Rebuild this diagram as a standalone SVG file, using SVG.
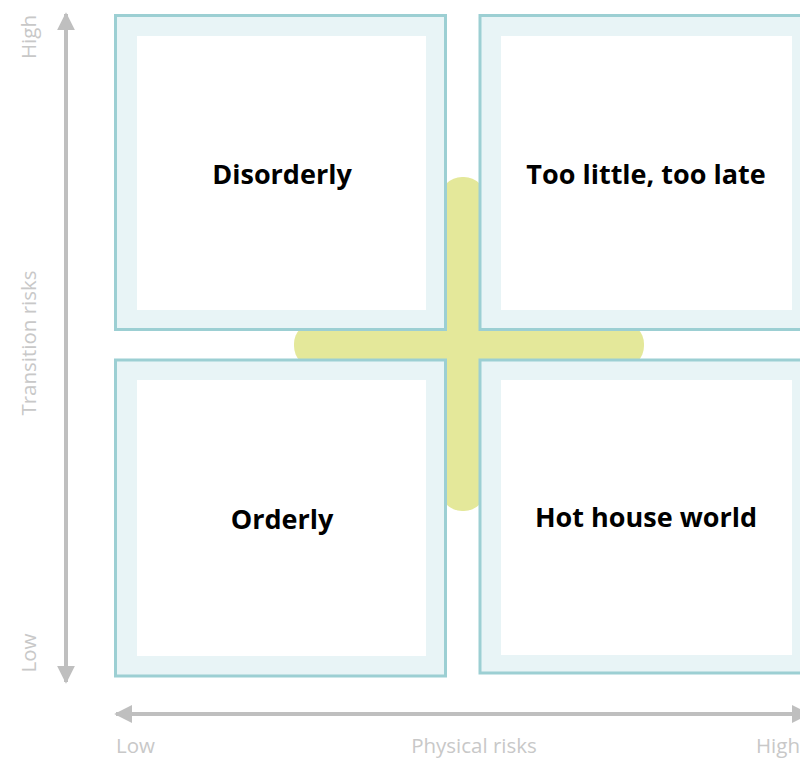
<svg xmlns="http://www.w3.org/2000/svg" width="800" height="759" viewBox="0 0 800 759">
<style>
.box{fill:#e8f4f6;stroke:#9ccfd3;stroke-width:3}
.inner{fill:#ffffff}
.lbl{font-family:"Open Sans","Liberation Sans",sans-serif;font-weight:bold;font-size:27px;fill:#000;text-anchor:middle}
.ax{font-family:"Open Sans","Liberation Sans",sans-serif;font-size:20.5px;fill:#c8c8c8}
.axl{stroke:#bfbfbf;stroke-width:4;fill:none}
</style>
<defs>
<marker id="ah" viewBox="0 0 10 10" refX="9" refY="5" markerWidth="4.5" markerHeight="4.5" markerUnits="strokeWidth" orient="auto">
<path d="M0,0 L10,5 L0,10 z" fill="#bfbfbf"/>
</marker>
</defs>
<rect width="800" height="759" fill="#ffffff"/>
<g id="cross">
<rect x="440" y="177" width="46" height="334" rx="22" fill="#e4e89a"/>
<rect x="294" y="322" width="350" height="46" rx="22" fill="#e4e89a"/>
</g>
<g id="connectors">
<line class="axl" x1="66" y1="345" x2="66" y2="14" marker-end="url(#ah)"/>
<line class="axl" x1="66" y1="345" x2="66" y2="682" marker-end="url(#ah)"/>
<line class="axl" x1="460" y1="714" x2="116" y2="714" marker-end="url(#ah)"/>
<line class="axl" x1="460" y1="714" x2="808" y2="714" marker-end="url(#ah)"/>
</g>
<g id="disorderly">
<rect class="box" x="115.5" y="15.5" width="330" height="314"/>
<rect class="inner" x="137" y="36" width="289" height="274"/>
<text class="lbl" x="282" y="184">Disorderly</text>
</g>
<g id="too-little">
<rect class="box" x="480" y="15.5" width="333" height="314"/>
<rect class="inner" x="501" y="36" width="291" height="274"/>
<text class="lbl" x="646" y="184">Too little, too late</text>
</g>
<g id="orderly">
<rect class="box" x="115.5" y="360" width="330" height="316"/>
<rect class="inner" x="137" y="380" width="289" height="276"/>
<text class="lbl" x="282" y="529">Orderly</text>
</g>
<g id="hothouse">
<rect class="box" x="480" y="360" width="333" height="313"/>
<rect class="inner" x="501" y="380" width="291" height="275"/>
<text class="lbl" x="646" y="527">Hot house world</text>
</g>
<g id="axis-labels">
<text class="ax" transform="translate(36,37) rotate(-90)" text-anchor="middle">High</text>
<text class="ax" transform="translate(36,343) rotate(-90)" text-anchor="middle">Transition risks</text>
<text class="ax" transform="translate(36,653) rotate(-90)" text-anchor="middle">Low</text>
<text class="ax" x="116" y="753">Low</text>
<text class="ax" x="474" y="753" text-anchor="middle">Physical risks</text>
<text class="ax" x="800" y="753" text-anchor="end">High</text>
</g>
</svg>
